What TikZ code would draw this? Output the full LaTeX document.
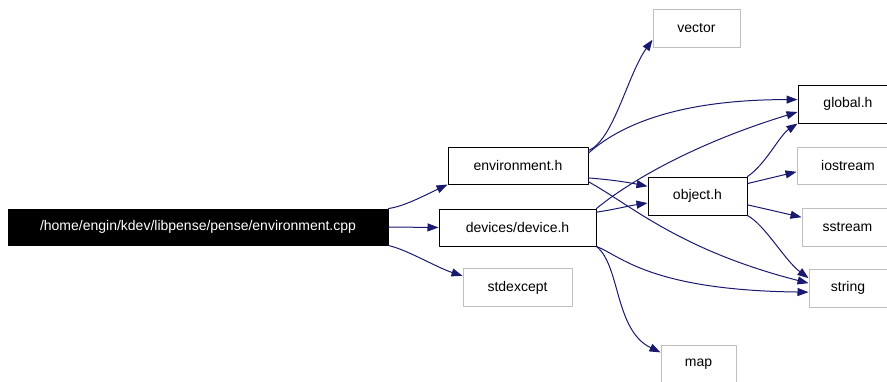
\documentclass[tikz,border=0pt]{standalone}
\usepackage{fontspec}
\setmainfont{Liberation Sans}
\usetikzlibrary{arrows.meta}
\definecolor{depNavy}{HTML}{191970}
\definecolor{depGrey}{HTML}{BFBFBF}
\definecolor{depInk}{HTML}{000000}

\begin{document}
\begin{tikzpicture}[x=1pt,y=-1pt,line cap=round,line join=round]
\useasboundingbox (0,0) rectangle (887,381);
\path[fill=white] (0,0) rectangle (887,381);
\clip (0,0) rectangle (887,381);
\tikzset{hdr/.style={draw=depInk,fill=white,line width=1pt,inner sep=0pt,minimum height=37pt,font=\fontsize{14}{16}\selectfont},sys/.style={hdr,draw=depGrey},root/.style={hdr,fill=black,text=white,minimum height=36pt},dep/.style={draw=depNavy,line width=1pt,-{Triangle[length=11pt,width=8pt]}}}
\node[root,minimum width=380pt] (cpp) at (198,227) {/home/engin/kdev/libpense/pense/environment.cpp};
\node[hdr,minimum width=140pt] (envh) at (518,165.5) {environment.h};
\node[hdr,minimum width=157pt] (devh) at (517.5,227.5) {devices/device.h};
\node[sys,minimum width=109pt,minimum height=38pt] (stdexc) at (517.5,287.5) {stdexcept};
\node[sys,minimum width=87pt,minimum height=38pt] (vec) at (696.5,28) {vector};
\node[hdr,minimum width=99pt,minimum height=38pt] (objh) at (697.5,196) {object.h};
\node[sys,minimum width=75pt,minimum height=38pt] (mapx) at (698.5,364) {map};
\node[hdr,minimum width=100pt,minimum height=38pt] (glob) at (848,104) {global.h};
\node[sys,minimum width=102pt] (iostr) at (848,165.5) {iostream};
\node[sys,minimum width=91pt,minimum height=38pt] (sstr) at (847.5,227) {sstream};
\node[sys,minimum width=78pt,minimum height=38pt] (strx) at (848,288) {string};
% from the source file
\draw[dep] (cpp.north east) .. controls +(15,-2) and +(-25,12) .. (envh.south west);
\draw[dep] (cpp.east) -- (devh.west);
\draw[dep] (cpp.south east) .. controls +(18,4) and +(-25,-8) .. (stdexc.168);
% environment.h
\draw[dep] (envh.12) .. controls +(25,-10) and +(-25,35) .. (vec.195);
\draw[dep] (envh.10) .. controls +(37,-33) and +(-108,0) .. (glob.175);
\draw[dep] (envh.-10) .. controls +(25,2) and +(-20,-4) .. (objh.169);
\draw[dep] (envh.-13) .. controls +(42,23) and +(-129,-33) .. (strx.173);
% devices/device.h
\draw[dep] (devh.north east) .. controls +(29,-24) and +(-108,33) .. (glob.189);
\draw[dep] (devh.11) .. controls +(20,-3) and +(-20,3) .. (objh.188);
\draw[dep] (devh.south east) .. controls +(24,9) and +(-159,-2) .. (strx.186);
\draw[dep] (devh.south east) .. controls +(24,19) and +(-46,-22) .. (mapx.163);
% object.h
\draw[dep] (objh.north east) .. controls +(18,-12) and +(-18,12) .. (glob.south west);
\draw[dep] (objh.14) -- (iostr.187);
\draw[dep] (objh.-10) -- (sstr.168);
\draw[dep] (objh.south east) .. controls +(18,10) and +(-24,-18) .. (strx.166);
\end{tikzpicture}
\end{document}
